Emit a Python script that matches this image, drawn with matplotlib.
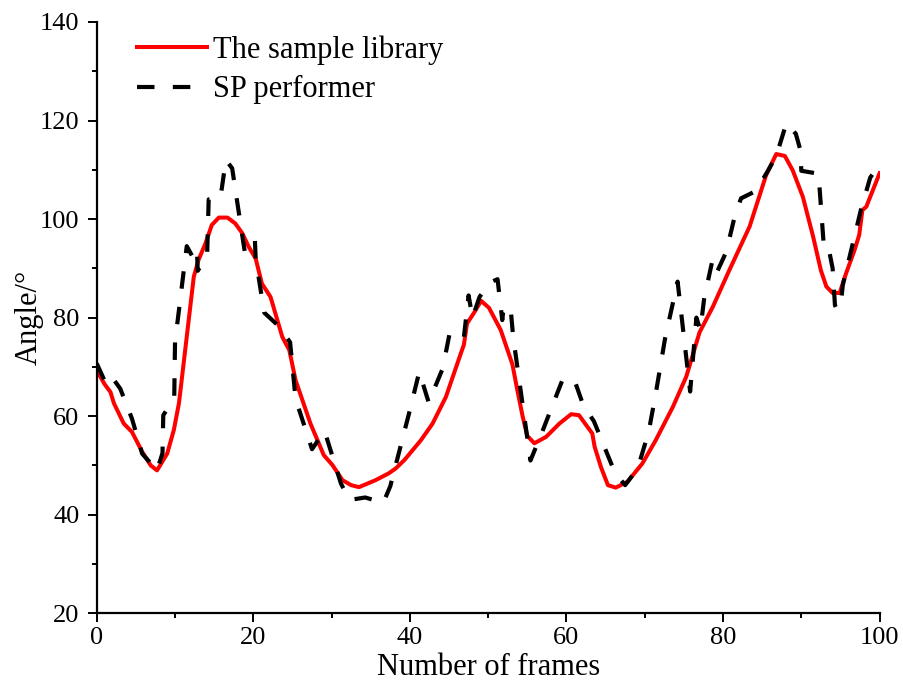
import matplotlib
matplotlib.use("Agg")
import matplotlib.pyplot as plt
from matplotlib.ticker import MultipleLocator

# The sample library (red solid)
lib_x = [0, 1.0, 1.75, 2.2, 3.45, 4.5, 5.8, 6.9, 7.7, 9.0, 9.85, 10.5, 11.1, 11.8, 12.4,
         13.0, 13.9, 14.7, 15.6, 16.7, 17.7, 18.6, 19.4, 20.3, 21.1, 22.2, 23.7, 24.6,
         25.4, 27.3, 29.0, 30.1, 31.4, 32.5, 33.5, 35.6, 37.3, 38.2, 39.3, 41.4, 42.9,
         44.6, 46.5, 46.9, 47.3, 48.2, 49.1, 50.1, 51.6, 53.1, 53.7, 54.4, 55.0, 55.9,
         57.4, 59.1, 60.6, 61.6, 62.7, 63.3, 63.6, 64.4, 65.3, 66.3, 67.8, 69.7, 71.4,
         73.6, 75.3, 77.0, 78.7, 80.8, 83.4, 85.5, 86.8, 87.9, 88.9, 90.2, 91.5, 92.5,
         93.2, 94.0, 94.9, 95.7, 96.8, 97.4, 97.8, 98.3, 100]
lib_y = [69.3, 66.5, 64.9, 62.6, 58.5, 56.8, 52.8, 50.0, 49.0, 52.4, 57.2, 62.6, 70.7,
         80.2, 88.3, 91.7, 95.1, 98.8, 100.3, 100.3, 99.1, 97.1, 94.4, 92.0, 86.9, 84.2,
         76.1, 73.4, 67.3, 58.5, 52.1, 50.1, 47.0, 46.0, 45.6, 47.0, 48.4, 49.4, 51.1,
         55.1, 58.5, 63.9, 72.7, 74.5, 78.8, 81.0, 83.4, 82.0, 77.5, 70.5, 65.5, 60.0,
         56.0, 54.5, 55.8, 58.5, 60.4, 60.2, 57.8, 56.5, 53.8, 49.7, 46.0, 45.5, 46.7,
         50.4, 55.1, 61.9, 68.0, 77.0, 82.2, 89.6, 98.5, 108.9, 113.2, 112.8, 109.9,
         104.5, 96.5, 89.6, 86.3, 85.0, 85.0, 88.9, 93.7, 96.8, 101.8, 102.5, 109.3]

# SP performer (black dashed)
sp_x = [0, 1.2, 2.0, 3.0, 4.5, 5.8, 7.7, 8.4, 8.5, 9.9, 10.0, 11.5, 12.3, 12.8, 12.9,
        14.1, 14.3, 15.8, 16.5, 17.3, 18.7, 18.9, 20.2, 20.3, 21.4, 23.3, 24.7, 25.4,
        27.5, 29.1, 31.2, 32.3, 34.3, 36.6, 37.5, 39.9, 41.2, 42.4, 44.2, 45.1, 45.8,
        46.9, 47.5, 48.0, 48.9, 50.2, 51.2, 51.8, 52.0, 52.9, 53.2, 55.4, 56.9, 59.5,
        60.4, 61.0, 62.2, 63.5, 66.2, 67.5, 69.1, 70.5, 71.4, 72.6, 74.2, 75.8, 76.6,
        77.1, 77.6, 78.7, 79.3, 80.4, 81.5, 82.3, 84.2, 85.7, 86.8, 88.1, 89.3, 89.9,
        90.0, 92.2, 92.9, 93.5, 94.0, 94.3, 94.5, 95.0, 95.3, 97.6, 98.8, 99.5]
sp_y = [70.7, 66.5, 67.8, 65.6, 59.5, 52.4, 49.0, 52.5, 60.2, 63.5, 75.0, 94.5, 92.2,
        93.8, 89.5, 92.5, 104.0, 104.3, 112.0, 110.3, 95.5, 93.5, 96.0, 92.0, 81.0,
        78.2, 75.0, 63.5, 53.3, 57.0, 46.3, 43.0, 43.5, 42.4, 45.8, 60.6, 69.0, 62.8,
        69.7, 77.0, 76.5, 76.0, 84.5, 80.0, 84.2, 87.1, 87.8, 79.5, 82.3, 81.3, 76.0,
        51.0, 56.8, 67.4, 67.3, 67.4, 62.0, 59.0, 48.5, 46.0, 49.4, 56.8, 64.5, 75.8,
        87.3, 65.0, 80.0, 77.5, 84.0, 92.0, 89.5, 93.3, 100.6, 104.2, 105.7, 109.7,
        112.8, 119.5, 117.3, 113.9, 109.8, 109.2, 94.0, 94.0, 90.0, 82.5, 81.8, 82.0,
        86.6, 101.8, 108.4, 110.0]

plt.rcParams['font.family'] = ['Liberation Serif', 'DejaVu Serif']
plt.rcParams['mathtext.fontset'] = 'stix'

fig = plt.figure(figsize=(9.04, 6.86), dpi=100)
ax = fig.add_axes([0.107, 0.106, 0.866, 0.862])

ax.plot(lib_x, lib_y, color='#ff0000', linewidth=2.9, label='The sample library')
ax.plot(sp_x, sp_y, color='black', linewidth=3.0, linestyle=(0, (4.2, 4.4)),
        label='SP performer')

ax.set_xlim(0, 100)
ax.set_ylim(20, 140)
ax.xaxis.set_major_locator(MultipleLocator(20))
ax.xaxis.set_minor_locator(MultipleLocator(10))
ax.yaxis.set_major_locator(MultipleLocator(20))
ax.yaxis.set_minor_locator(MultipleLocator(10))

for side in ['top', 'right']:
    ax.spines[side].set_visible(False)
for side in ['left', 'bottom']:
    ax.spines[side].set_linewidth(1.6)

ax.tick_params(which='major', direction='out', length=6.5, width=1.4, labelsize=19)
ax.tick_params(axis='y', which='major', pad=6)
ax.tick_params(which='minor', direction='out', length=3.5, width=1.4)

ax.set_xlabel('Number of frames', fontsize=22, labelpad=3)
ax.set_ylabel('Angle/°', fontsize=22, labelpad=-3)

ax.legend(loc='upper left', bbox_to_anchor=(0.043, 0.988), frameon=False, fontsize=22,
          handlelength=2.3, handletextpad=0.2, labelspacing=0.35, borderpad=0.2,
          borderaxespad=0)

fig.savefig('out.png', dpi=100)
